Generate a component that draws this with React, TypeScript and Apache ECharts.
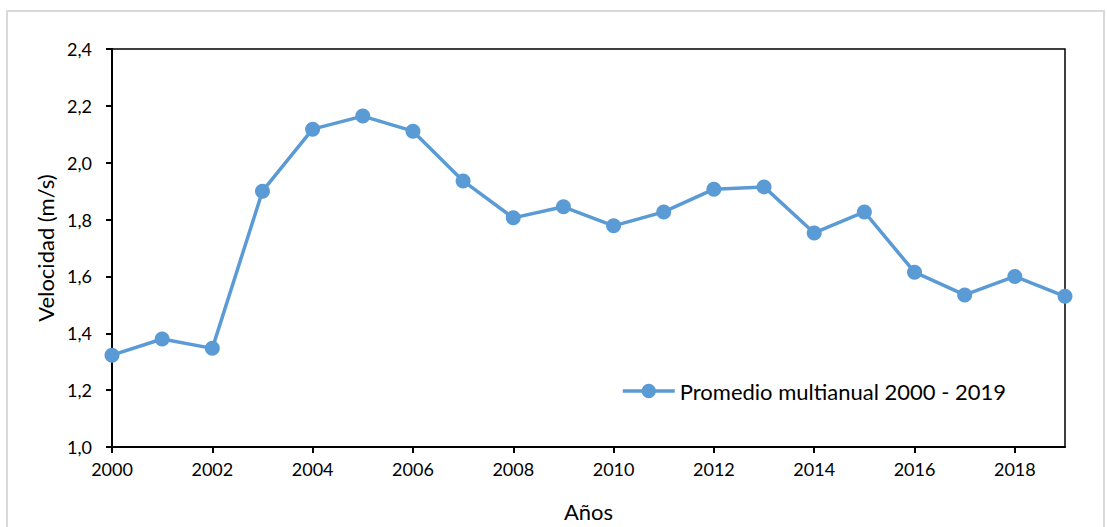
import React, { useEffect, useRef } from "react";
import * as echarts from "echarts";

const years = [2000, 2001, 2002, 2003, 2004, 2005, 2006, 2007, 2008, 2009, 2010, 2011, 2012, 2013, 2014, 2015, 2016, 2017, 2018, 2019];
const velocidad = [1.323, 1.38, 1.347, 1.9, 2.118, 2.164, 2.111, 1.936, 1.806, 1.845, 1.778, 1.827, 1.907, 1.915, 1.753, 1.827, 1.615, 1.535, 1.6, 1.53];
const seriesName = "Promedio multianual 2000 - 2019";
const xAxisTitle = "Años";
const yAxisTitle = "Velocidad (m/s)";

const FONT = "Lato";

export default function App() {
  const ref = useRef<HTMLDivElement>(null);
  useEffect(() => {
    if (!ref.current) return;
    const chart = echarts.init(ref.current, null, { renderer: "svg" });
    chart.setOption({
      animation: false,
      backgroundColor: "#fff",
      textStyle: { fontFamily: FONT, color: "#000" },
      graphic: [
        {
          type: "rect",
          shape: { x: 7, y: 11, width: 1097, height: 530 },
          style: { fill: "none", stroke: "#d9d9d9", lineWidth: 2 },
          silent: true,
        },
      ],
      grid: {
        left: 112,
        top: 49,
        right: 42,
        bottom: 80,
        show: true,
        borderColor: "#000",
        borderWidth: 1.5,
        backgroundColor: "transparent",
      },
      legend: {
        left: 616,
        top: 375,
        itemWidth: 52,
        itemHeight: 18,
        itemGap: 6,
        lineStyle: { width: 3.5 },
        textStyle: { fontFamily: FONT, fontSize: 22, color: "#000" },
        data: [seriesName],
      },
      xAxis: {
        type: "value",
        min: 2000,
        max: 2019,
        interval: 2,
        name: xAxisTitle,
        nameLocation: "middle",
        nameGap: 53,
        nameTextStyle: { fontFamily: FONT, fontSize: 22, color: "#000" },
        axisLine: { show: true, lineStyle: { color: "#000", width: 2 } },
        axisTick: { show: true, length: 6, lineStyle: { color: "#000", width: 2 } },
        axisLabel: {
          fontFamily: FONT,
          fontSize: 18,
          color: "#000",
          margin: 13,
          showMaxLabel: false,
          formatter: (v: number) => String(v),
        },
        splitLine: { show: false },
      },
      yAxis: {
        type: "value",
        min: 1.0,
        max: 2.4,
        interval: 0.2,
        name: yAxisTitle,
        nameLocation: "middle",
        nameGap: 56,
        nameRotate: 90,
        nameTextStyle: { fontFamily: FONT, fontSize: 22, color: "#000" },
        axisLine: { show: true, lineStyle: { color: "#000", width: 2 } },
        axisTick: { show: true, length: 6, lineStyle: { color: "#000", width: 2 } },
        axisLabel: {
          fontFamily: FONT,
          fontSize: 18,
          color: "#000",
          margin: 20,
          formatter: (v: number) => v.toFixed(1).replace(".", ","),
        },
        splitLine: { show: false },
      },
      series: [
        {
          name: seriesName,
          type: "line",
          data: years.map((y, i) => [y, velocidad[i]]),
          symbol: "circle",
          symbolSize: 15,
          lineStyle: { color: "#5B9BD5", width: 3.5 },
          itemStyle: { color: "#5B9BD5" },
        },
      ],
    });
    return () => chart.dispose();
  }, []);
  return (
    <div
      ref={ref}
      style={{ position: "absolute", left: 0, top: 0, width: 1107, height: 527 }}
    />
  );
}
